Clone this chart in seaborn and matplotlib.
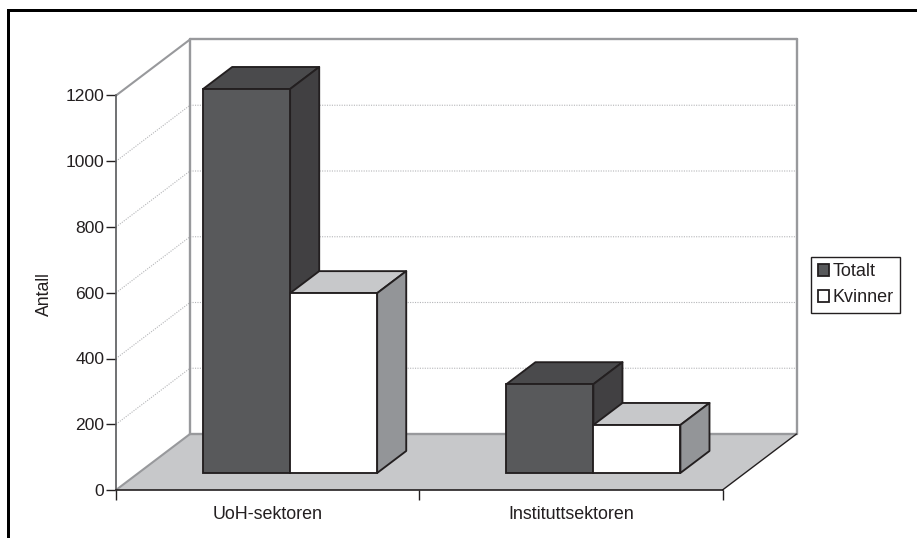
import matplotlib
matplotlib.use("Agg")
import matplotlib.pyplot as plt
from matplotlib.lines import Line2D
from matplotlib.patches import Polygon, Rectangle
from matplotlib.transforms import Affine2D
import pandas as pd
import seaborn as sns

sectors = ["UoH-sektoren", "Instituttsektoren"]
totalt = [1168, 270]
kvinner = [547, 146]
series_names = ["Totalt", "Kvinner"]
y_ticks = [0, 200, 400, 600, 800, 1000, 1200]

INK = "#231f20"
DARK_FRONT = "#58595b"
DARK_TOP = "#4a4a4c"
DARK_SIDE = "#414042"
LIGHT_TOP = "#c7c8ca"
LIGHT_SIDE = "#939598"
WALL = "#98999c"
GRID = "#b4b5b8"

W, H = 917, 538
sns.set_theme(style="white")
plt.rcParams["font.family"] = ["Liberation Sans", "DejaVu Sans"]
plt.rcParams["text.color"] = INK

fig = plt.figure(figsize=(W / 100, H / 100), dpi=100, facecolor="white")
# Front plane of the oblique box, in pixels from the top-left corner
left, right, top, bottom = 116.0, 722.5, 95.5, 490.0
ax = fig.add_axes([left / W, 1 - bottom / H, (right - left) / W, (bottom - top) / H])
ax.set_facecolor("none")

df = pd.DataFrame({
    "sector": sectors * 2,
    "series": [series_names[0]] * 2 + [series_names[1]] * 2,
    "value": totalt + kvinner,
})
sns.barplot(
    data=df, x="sector", y="value", hue="series", ax=ax,
    palette=[DARK_FRONT, "white"], width=0.574, gap=0, saturation=1,
    edgecolor=INK, linewidth=1.35, zorder=5,
)
ax.set_xlim(-0.5, 1.5)
ax.set_ylim(0, 1200)

# Oblique depth vector of the whole box, expressed in data units
unit_x = 2 / (right - left)
unit_y = 1200 / (bottom - top)
depth_x, depth_y = 74 * unit_x, 56 * unit_y
bar_start = 0.304   # where the bars begin along the depth
bar_depth = 0.393   # how far they extend


def shifted(x, y, d):
    return (x + depth_x * d, y + depth_y * d)


def face(points, color, z, edge=INK, lw=1.35):
    ax.add_patch(Polygon(points, closed=True, facecolor=color, edgecolor=edge,
                         linewidth=lw, joinstyle="round", clip_on=False, zorder=z))


# Floor and walls
face([shifted(-0.5, 0, 0), shifted(1.5, 0, 0), shifted(1.5, 0, 1), shifted(-0.5, 0, 1)],
     LIGHT_TOP, 1, edge="none", lw=0)
for d0, d1, xa, xb, ya, yb, col, lw in [
    (0, 1, -0.5, -0.5, 1200, 1200, WALL, 1.5),
    (1, 1, -0.5, 1.5, 1200, 1200, WALL, 1.7),
    (1, 1, -0.5, -0.5, 0, 1200, WALL, 1.7),
    (1, 1, 1.5, 1.5, 0, 1200, WALL, 1.7),
    (1, 1, -0.5, 1.5, 0, 0, WALL, 1.7),
    (0, 1, -0.5, -0.5, 0, 0, WALL, 1.5),
    (0, 1, 1.5, 1.5, 0, 0, INK, 1.0),
]:
    p0, p1 = shifted(xa, ya, d0), shifted(xb, yb, d1)
    ax.add_line(Line2D([p0[0], p1[0]], [p0[1], p1[1]], color=col, lw=lw,
                       clip_on=False, zorder=2))

# Dotted gridlines run across the left wall and along the back wall
for v in y_ticks[1:-1]:
    a, b, c = shifted(-0.5, v, 0), shifted(-0.5, v, 1), shifted(1.5, v, 1)
    ax.add_line(Line2D([a[0], b[0], c[0]], [a[1], b[1], c[1]], color=GRID, lw=0.8,
                       ls=(0, (1, 1.2)), clip_on=False, zorder=1.5))

# Shift the seaborn bars onto the floor and extrude top and side faces
shift = Affine2D().translate(depth_x * bar_start, depth_y * bar_start) + ax.transData
bars = [p for p in ax.patches if isinstance(p, Rectangle) and p.get_height() > 0]
bars = sorted(bars, key=lambda p: p.get_x())
for patch in bars:
    patch.set_transform(shift)
    patch.set_clip_on(False)
    is_dark = patch.get_facecolor()[0] < 0.9
    x0, x1 = patch.get_x(), patch.get_x() + patch.get_width()
    h = patch.get_height()
    s0, s1 = bar_start, bar_start + bar_depth
    order = 3 + x0
    patch.set_zorder(order + 0.3)
    face([shifted(x0, h, s0), shifted(x1, h, s0), shifted(x1, h, s1), shifted(x0, h, s1)],
         DARK_TOP if is_dark else LIGHT_TOP, order)
    face([shifted(x1, 0, s0), shifted(x1, h, s0), shifted(x1, h, s1), shifted(x1, 0, s1)],
         DARK_SIDE if is_dark else LIGHT_SIDE, order)

# Axes furniture
sns.despine(ax=ax, top=True, right=True)
for side in ("left", "bottom"):
    ax.spines[side].set_color("#58595b" if side == "left" else INK)
    ax.spines[side].set_linewidth(1.2)
    ax.spines[side].set_zorder(2.5)
ax.set_yticks(y_ticks)
ax.tick_params(axis="y", which="major", left=True, length=7, width=1.0, color=INK,
               labelsize=12.6, labelcolor=INK, pad=1.5)
ax.set_xticks([-0.5, 0.5, 1.5])
ax.set_xticklabels([])
ax.set_xticks([0, 1], labels=sectors, minor=True)
ax.tick_params(axis="x", which="major", bottom=True, length=7, width=1.0, color=INK)
ax.tick_params(axis="x", which="minor", bottom=False, length=0, labelsize=12.9,
               labelcolor=INK, pad=11.5)
ax.set_xlabel("")
ax.set_ylabel("Antall", fontsize=12.7, color=INK)
ax.yaxis.set_label_coords(52.5 / W, 1 - 294 / H, transform=fig.transFigure)

sns.move_legend(
    ax, loc="upper left", bbox_to_anchor=(811 / W, 1 - 256.5 / H),
    bbox_transform=fig.transFigure, title=None, frameon=True, fancybox=False,
    edgecolor=INK, framealpha=1, fontsize=13, borderaxespad=0, borderpad=0.36,
    handlelength=0.66, handleheight=0.66, handletextpad=0.17, labelspacing=0.5,
)
leg = ax.get_legend()
leg.get_frame().set_linewidth(1.0)
for h in leg.get_patches():
    h.set_edgecolor(INK)
    h.set_linewidth(1.3)

# Heavy black rule along the top and left of the figure
fig.add_artist(Rectangle((7 / W, 1 - 12 / H), 1 - 7 / W, 3 / H, transform=fig.transFigure,
                         facecolor="black", edgecolor="none"))
fig.add_artist(Rectangle((7 / W, 0), 3 / W, 1 - 9 / H, transform=fig.transFigure,
                         facecolor="black", edgecolor="none"))

fig.savefig("out.png", dpi=100)
